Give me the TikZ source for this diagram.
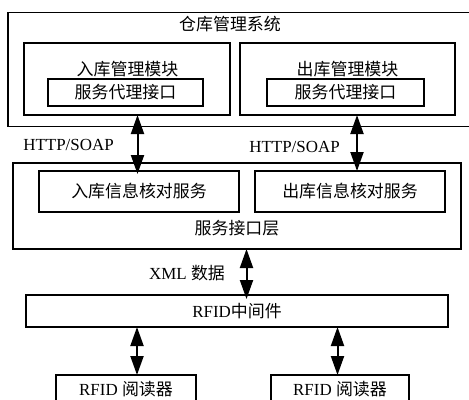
\documentclass[tikz,border=0pt]{standalone}
\usepackage{fontspec}
\setmainfont{Liberation Serif}
\newfontfamily\cjk{Noto Sans CJK SC}
\usetikzlibrary{arrows.meta}
\begin{document}
\begin{tikzpicture}[x=1bp,y=-1bp,
  box/.style={draw,line width=1.1bp,inner sep=0pt,outer sep=0pt},
  proxy/.style={draw,line width=1.6bp,inner sep=0pt,outer sep=0pt,font=\fontsize{17}{20}\selectfont\cjk},
  lbl/.style={inner sep=0pt,font=\fontsize{17}{20}\selectfont\cjk},
  latin/.style={inner sep=0pt,font=\fontsize{17}{20}\selectfont},
  biarrow/.style={line width=2bp,{Triangle[length=19bp,width=13bp]}-{Triangle[length=19bp,width=13bp]}}]
\useasboundingbox (0,0) rectangle (469,399);
\clip (0,0) rectangle (469,399);
% system box
\node[box,minimum width=472bp,minimum height=114bp] (sys) at (244,69.5) {};
\node[lbl] (systitle) at (230,24) {仓库管理系统};
% modules
\node[box,minimum width=206bp,minimum height=72bp] (inmod) at (127,79) {};
\node[lbl] (inmodt) at (127.5,69) {入库管理模块};
\node[proxy,minimum width=155bp,minimum height=27bp] (inprx) at (125.5,92.5) {服务代理接口};
\node[box,minimum width=215bp,minimum height=72bp] (outmod) at (347.5,79) {};
\node[lbl] (outmodt) at (347.5,69) {出库管理模块};
\node[proxy,minimum width=157bp,minimum height=27bp] (outprx) at (345.5,92.5) {服务代理接口};
% service layer
\node[box,minimum width=448bp,minimum height=86bp] (svc) at (237,206) {};
\node[box,minimum width=200bp,minimum height=41bp,font=\fontsize{17}{20}\selectfont\cjk] (inchk) at (139,191.5) {入库信息核对服务};
\node[box,minimum width=190bp,minimum height=41bp,font=\fontsize{17}{20}\selectfont\cjk] (outchk) at (350,191.5) {出库信息核对服务};
\node[lbl] (svct) at (237,228) {服务接口层};
% middleware
\node[box,minimum width=422bp,minimum height=32bp,font=\fontsize{17}{20}\selectfont] (mw) at (237,311) {RFID{\cjk 中间件}};
% readers
\node[box,minimum width=140bp,minimum height=28bp,font=\fontsize{17}{20}\selectfont] (rd1) at (126,389) {RFID {\cjk 阅读器}};
\node[box,minimum width=138bp,minimum height=28bp,font=\fontsize{17}{20}\selectfont] (rd2) at (340,389) {RFID {\cjk 阅读器}};
% arrow x positions
\coordinate (xa) at (137.5,0);
\coordinate (xb) at (357,0);
\coordinate (xc) at (246.5,0);
\coordinate (xd) at (137,0);
\coordinate (xe) at (337.5,0);
% arrows
\draw[biarrow] (inmod.south -| xa) -- ([yshift=-3bp]inchk.north -| xa);
\draw[biarrow] (outmod.south -| xb) -- (outchk.north -| xb);
\draw[biarrow] (svc.south -| xc) -- ([yshift=-4bp]mw.north -| xc);
\draw[biarrow] (mw.south -| xd) -- (rd1.north -| xd);
\draw[biarrow] (mw.south -| xe) -- (rd2.north -| xe);
% labels
\node[latin] (http1) at (68.5,145) {HTTP/SOAP};
\node[latin] (http2) at (294.5,147) {HTTP/SOAP};
\node[latin] (xml) at (187,273) {XML {\cjk 数据}};
\end{tikzpicture}
\end{document}
